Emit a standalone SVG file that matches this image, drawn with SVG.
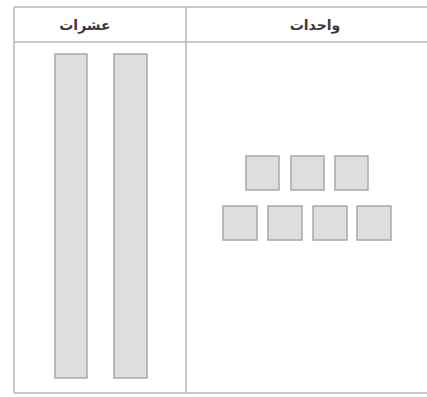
<svg xmlns="http://www.w3.org/2000/svg" width="427" height="397" viewBox="0 0 427 397">
<style>
.line{stroke:#b8b8b8;stroke-width:1.5;fill:none}
.blk{fill:#dedede;stroke:#a8a8a8;stroke-width:1.5}
.hd{font-family:"DejaVu Sans",sans-serif;font-size:14px;font-weight:bold;fill:#3a3a3a;text-anchor:middle}
</style>
<rect width="427" height="397" fill="#ffffff"/>
<g id="table">
<path class="line" d="M14 7 H427 M14 42 H427 M14 7 V393 M186 7 V393 M14 393 H427"/>
</g>
<g id="header-tens"><text class="hd" x="85" y="30" direction="rtl">عشرات</text></g>
<g id="header-ones"><text class="hd" x="315" y="30" direction="rtl">واحدات</text></g>
<g id="tens">
<rect class="blk" x="55" y="54" width="32" height="324"/>
<rect class="blk" x="114" y="54" width="33" height="324"/>
</g>
<g id="ones">
<rect class="blk" x="246" y="156" width="33" height="34"/>
<rect class="blk" x="291" y="156" width="33" height="34"/>
<rect class="blk" x="335" y="156" width="33" height="34"/>
<rect class="blk" x="223" y="206" width="34" height="34"/>
<rect class="blk" x="268" y="206" width="34" height="34"/>
<rect class="blk" x="313" y="206" width="34" height="34"/>
<rect class="blk" x="357" y="206" width="34" height="34"/>
</g>
<g id="connectors"></g>
</svg>
